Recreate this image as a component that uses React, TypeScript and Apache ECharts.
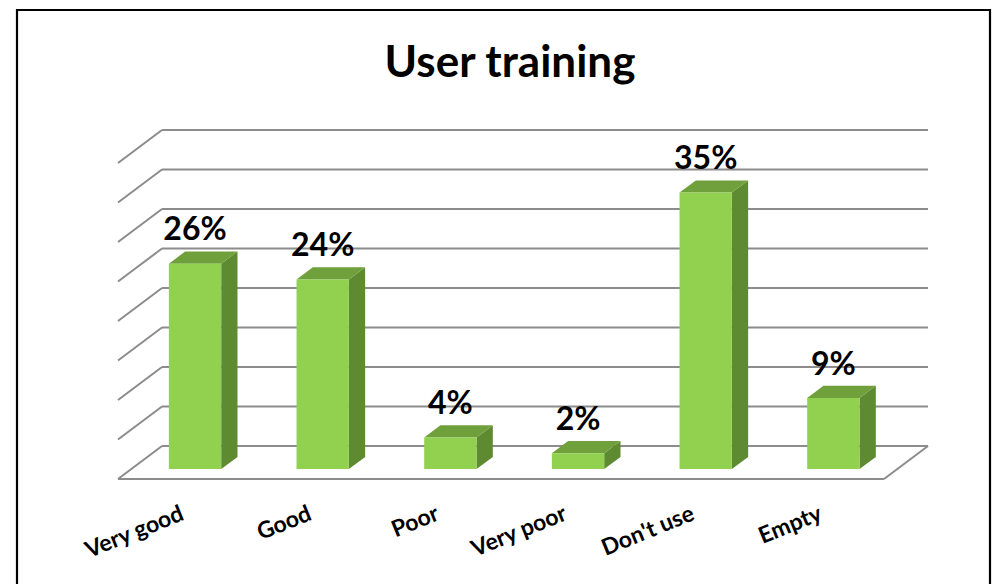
import React, { useEffect, useRef } from 'react';
import * as echarts from 'echarts';

const categories = ['Very good', 'Good', 'Poor', 'Very poor', "Don't use", 'Empty'];
const values = [26, 24, 4, 2, 35, 9];
const axisTicks = [0, 5, 10, 15, 20, 25, 30, 35, 40];
const titleText = 'User training';

const DEPTH = [44, -33];
const BAR_START = 0.3;
const BAR_DEPTH = 0.37;
const BAR_WIDTH = 0.41;
const GRID_COLOR = '#8c8c8c';
const FRONT = '#92D050';
const TOP = '#6FA03B';
const SIDE = '#5E8A31';
const FONT = 'Lato, "Open Sans", sans-serif';

export default function App() {
  const ref = useRef<HTMLDivElement>(null);
  useEffect(() => {
    const chart = echarts.init(ref.current as HTMLDivElement, null, { renderer: 'svg' });
    const [dx, dy] = DEPTH;
    const option: any = {
      animation: false,
      backgroundColor: '#ffffff',
      title: {
        text: titleText,
        left: 505,
        top: 33,
        textAlign: 'center',
        textStyle: { fontFamily: FONT, fontWeight: 'bold', fontSize: 44, color: '#000' },
      },
      graphic: [
        {
          type: 'rect',
          silent: true,
          shape: { x: 17, y: 10, width: 973, height: 640 },
          style: { fill: 'none', stroke: '#000', lineWidth: 2.2 },
        },
      ],
      grid: { left: 118, top: 163, width: 766, height: 316 },
      xAxis: {
        type: 'category',
        data: categories,
        axisLine: { show: false },
        axisTick: { show: false },
        axisLabel: {
          rotate: 22,
          margin: 32,
          fontFamily: FONT,
          fontWeight: 'bold',
          fontSize: 23,
          color: '#000',
          interval: 0,
        },
      },
      yAxis: { type: 'value', min: 0, max: 40, interval: 5, show: false },
      series: [
        {
          type: 'custom',
          name: 'walls',
          z: 1,
          silent: true,
          data: axisTicks.map((t) => [0, t]),
          encode: { x: 0, y: 1 },
          renderItem: (params: any, api: any) => {
            const cs = params.coordSys;
            const v = api.value(1);
            const y = api.coord([0, v])[1];
            const style = { stroke: GRID_COLOR, lineWidth: 2, fill: 'none' };
            const children: any[] = [
              { type: 'line', shape: { x1: cs.x + dx, y1: y + dy, x2: cs.x + cs.width + dx, y2: y + dy }, style },
              { type: 'line', shape: { x1: cs.x, y1: y, x2: cs.x + dx, y2: y + dy }, style },
            ];
            if (v === 0) {
              children.push(
                { type: 'line', shape: { x1: cs.x, y1: y, x2: cs.x + cs.width, y2: y }, style },
                { type: 'line', shape: { x1: cs.x + cs.width, y1: y, x2: cs.x + cs.width + dx, y2: y + dy }, style },
              );
            }
            return { type: 'group', children };
          },
        },
        {
          type: 'custom',
          name: 'bars',
          z: 2,
          data: values.map((v, i) => [i, v]),
          encode: { x: 0, y: 1 },
          renderItem: (params: any, api: any) => {
            const i = api.value(0);
            const v = api.value(1);
            const base = api.coord([i, 0]);
            const top = api.coord([i, v]);
            const band = api.size([1, 0])[0];
            const bw = band * BAR_WIDTH;
            const ox = dx * BAR_START;
            const oy = dy * BAR_START;
            const bdx = dx * BAR_DEPTH;
            const bdy = dy * BAR_DEPTH;
            const cx = base[0] + ox;
            const x0 = cx - bw / 2;
            const x1 = cx + bw / 2;
            const yb = base[1] + oy;
            const yt = top[1] + oy;
            return {
              type: 'group',
              children: [
                {
                  type: 'polygon',
                  shape: { points: [[x1, yt], [x1 + bdx, yt + bdy], [x1 + bdx, yb + bdy], [x1, yb]] },
                  style: { fill: SIDE },
                },
                {
                  type: 'polygon',
                  shape: { points: [[x0, yt], [x1, yt], [x1 + bdx, yt + bdy], [x0 + bdx, yt + bdy]] },
                  style: { fill: TOP },
                },
                {
                  type: 'rect',
                  shape: { x: x0, y: yt, width: bw, height: yb - yt },
                  style: { fill: FRONT },
                },
                {
                  type: 'text',
                  style: {
                    text: v + '%',
                    x: cx,
                    y: yt - 36,
                    textAlign: 'center',
                    textVerticalAlign: 'middle',
                    fontFamily: FONT,
                    fontWeight: 'bold',
                    fontSize: 32,
                    fill: '#000',
                  },
                },
              ],
            };
          },
        },
      ],
    };
    chart.setOption(option);
    return () => chart.dispose();
  }, []);
  return (
    <div
      ref={ref}
      style={{ position: 'fixed', left: 0, top: 0, width: 1006, height: 584, background: '#fff' }}
    />
  );
}
